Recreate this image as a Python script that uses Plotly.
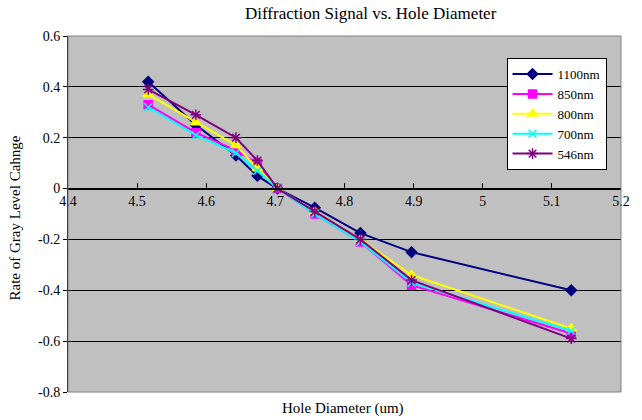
import plotly.graph_objects as go

hole_diameter = [4.516, 4.585, 4.643, 4.674, 4.703, 4.757, 4.823, 4.897, 5.128]
series_names = ["1100nm", "850nm", "800nm", "700nm", "546nm"]
y_1100 = [0.42, 0.25, 0.13, 0.05, 0.0, -0.075, -0.175, -0.25, -0.40]
y_850 = [0.33, 0.22, 0.15, 0.10, 0.0, -0.10, -0.21, -0.38, -0.57]
y_800 = [0.37, 0.26, 0.17, 0.08, 0.0, -0.09, -0.20, -0.34, -0.55]
y_700 = [0.32, 0.21, 0.14, 0.07, 0.0, -0.10, -0.21, -0.37, -0.56]
y_546 = [0.39, 0.29, 0.20, 0.11, 0.0, -0.09, -0.20, -0.36, -0.59]
y_tick_vals = [0.6, 0.4, 0.2, 0, -0.2, -0.4, -0.6, -0.8]
y_tick_text = ["0.6", "0.4", "0.2", "0", "-0.2", "-0.4", "-0.6", "-0.8"]

colors = ["#000080", "#FF00FF", "#FFFF00", "#00FFFF", "#800080"]
symbols = ["diamond", "square", "triangle-up", "x-thin", "asterisk"]
sizes = [8, 8, 9, 8, 9]
all_y = [y_1100, y_850, y_800, y_700, y_546]

FONT = "Liberation Serif"

fig = go.Figure()
for name, ys, c, s, sz in zip(series_names, all_y, colors, symbols, sizes):
    fig.add_trace(go.Scatter(
        x=hole_diameter, y=ys, name=name, mode="lines+markers",
        line=dict(color=c, width=2),
        marker=dict(symbol=s, size=sz, color=c, line=dict(color=c, width=1.5)),
    ))

fig.update_layout(
    width=642, height=420,
    margin=dict(l=68, r=14, t=36, b=28),
    paper_bgcolor="white", plot_bgcolor="#C0C0C0",
    font=dict(family=FONT, size=14, color="black"),
    showlegend=True,
    legend=dict(
        x=0.793, y=0.938, xanchor="left", yanchor="top",
        bgcolor="white", bordercolor="black", borderwidth=1,
        font=dict(family=FONT, size=13), tracegroupgap=0, itemwidth=40,
    ),
    xaxis=dict(
        range=[4.4, 5.2], dtick=0.1, tick0=4.4,
        anchor="free", position=(0 - (-0.8)) / 1.4,
        showline=True, linecolor="black", linewidth=1.5,
        ticks="inside", ticklen=5, tickcolor="black",
        showgrid=False, zeroline=False,
        tickfont=dict(family=FONT, size=14),
    ),
    yaxis=dict(
        range=[-0.8, 0.6], tickvals=y_tick_vals, ticktext=y_tick_text,
        showline=True, linecolor="black", linewidth=1,
        ticks="outside", ticklen=4, tickcolor="black",
        showgrid=True, gridcolor="black", gridwidth=1,
        zeroline=False,
        tickfont=dict(family=FONT, size=14),
    ),
    shapes=[dict(type="rect", xref="paper", yref="paper", x0=0, x1=1, y0=0, y1=1,
                 line=dict(color="#808080", width=1), layer="above")],
    annotations=[
        dict(text="Diffraction Signal vs. Hole Diameter", xref="paper", yref="paper",
             x=0.548, y=1.062, xanchor="center", yanchor="middle", showarrow=False,
             font=dict(family=FONT, size=17)),
        dict(text="Hole Diameter (um)", xref="paper", yref="paper",
             x=0.498, y=-0.046, xanchor="center", yanchor="middle", showarrow=False,
             font=dict(family=FONT, size=15)),
        dict(text="Rate of Gray Level Cahnge", xref="paper", yref="paper",
             x=-0.096, y=0.49, xanchor="center", yanchor="middle", showarrow=False,
             textangle=-90, font=dict(family=FONT, size=15)),
    ],
)

fig.write_html("out.html")
